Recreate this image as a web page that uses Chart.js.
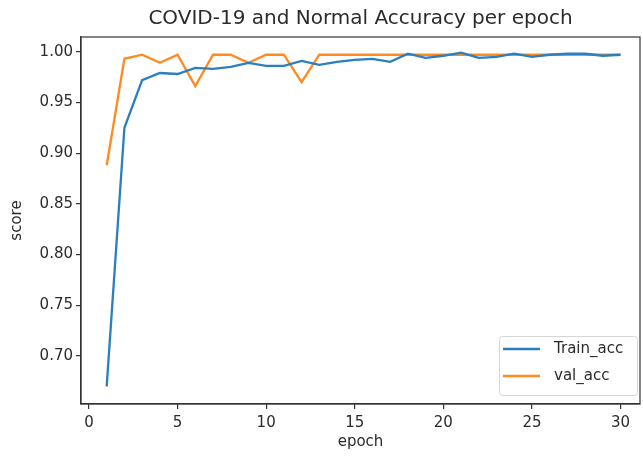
<!DOCTYPE html>
<html>
<head>
<meta charset="utf-8">
<script src="https://cdn.jsdelivr.net/npm/chart.js@4/dist/chart.umd.min.js"></script>
<style>
  html, body { margin: 0; padding: 0; background: #fff; }
  #wrap { width: 643px; height: 460px; }
</style>
</head>
<body>
<div id="wrap"><canvas id="accChart" width="643" height="460"></canvas></div>
<script>
// epochs and accuracies
const epochs = [1,2,3,4,5,6,7,8,9,10,11,12,13,14,15,16,17,18,19,20,21,22,23,24,25,26,27,28,29,30];
const trainAcc = [0.670,0.925,0.972,0.979,0.978,0.984,0.983,0.985,0.989,0.986,0.986,0.991,0.987,0.990,0.992,
                  0.993,0.990,0.998,0.994,0.996,0.999,0.994,0.995,0.998,0.995,0.997,0.998,0.998,0.996,0.997];
const valAcc = [0.888,0.993,0.997,0.989,0.997,0.966,0.997,0.997,0.989,0.997,0.997,0.970,0.997,0.997,0.997,
                0.997,0.997,0.997,0.997,0.997,0.997,0.997,0.997,0.997,0.997,0.997,0.997,0.997,0.997,0.997];
const xTicks = [0,5,10,15,20,25,30];
const yTicks = [0.70,0.75,0.80,0.85,0.90,0.95,1.00];

const txtColor = '#2b2b2b';
const frameColor = '#333';
const font = 'DejaVu Sans';

// box round the plot area, like matplotlib's spines
const framePlugin = {
    id: 'frame',
    afterDraw(chart) {
        const a = chart.chartArea;
        const ctx = chart.ctx;
        ctx.save();
        ctx.strokeStyle = frameColor;
        ctx.lineWidth = 1.2;
        ctx.strokeRect(a.left, a.top, a.right - a.left, a.bottom - a.top);
        ctx.restore();
    }
};

// legend drawn in the lower right corner inside the axes
const cornerLegend = {
    id: 'cornerLegend',
    afterDraw(chart) {
        const a = chart.chartArea;
        const ctx = chart.ctx;
        const w = 138, h = 59;
        const x = a.right - 3 - w, y = a.bottom - 9 - h;
        ctx.save();
        ctx.fillStyle = 'rgba(255,255,255,0.85)';
        ctx.strokeStyle = '#d6d6d6';
        ctx.lineWidth = 1;
        ctx.beginPath();
        ctx.roundRect(x + 0.5, y + 0.5, w, h, 3);
        ctx.fill();
        ctx.stroke();
        ctx.font = '15px "' + font + '"';
        ctx.textBaseline = 'middle';
        chart.data.datasets.forEach((ds, i) => {
            const ly = y + 13 + i * 27;
            ctx.strokeStyle = ds.borderColor;
            ctx.lineWidth = 2.3;
            ctx.beginPath();
            ctx.moveTo(x + 4, ly);
            ctx.lineTo(x + 41, ly);
            ctx.stroke();
            ctx.fillStyle = txtColor;
            ctx.fillText(ds.label, x + 55, ly);
        });
        ctx.restore();
    }
};

new Chart(document.getElementById('accChart'), {
    type: 'line',
    data: {
        labels: epochs,
        datasets: [
            {
                label: 'Train_acc',
                data: epochs.map((e, i) => ({x: e, y: trainAcc[i]})),
                borderColor: '#2a7fbc',
                borderWidth: 2.3,
                pointRadius: 0,
                tension: 0,
                fill: false
            },
            {
                label: 'val_acc',
                data: epochs.map((e, i) => ({x: e, y: valAcc[i]})),
                borderColor: '#ff8a1e',
                borderWidth: 2.3,
                pointRadius: 0,
                tension: 0,
                fill: false
            }
        ]
    },
    options: {
        responsive: false,
        animation: false,
        layout: { padding: { left: 0, right: 3, top: 0, bottom: 0 } },
        plugins: {
            legend: { display: false },
            tooltip: { enabled: false },
            title: {
                display: true,
                text: 'COVID-19 and Normal Accuracy per epoch',
                fullSize: false,
                color: txtColor,
                font: { family: font, size: 20, weight: 'normal' },
                padding: { top: 7, bottom: 6 }
            }
        },
        scales: {
            x: {
                type: 'linear',
                min: -0.45,
                max: 31.1,
                afterBuildTicks: s => { s.ticks = xTicks.map(v => ({value: v})); },
                afterFit: s => { s.height = 56; },
                grid: { display: true, drawOnChartArea: false, drawTicks: true, tickLength: 5, color: frameColor, lineWidth: 1.2 },
                border: { display: true, color: frameColor, width: 1.2 },
                ticks: { color: txtColor, font: { family: font, size: 15 }, padding: 5, maxRotation: 0 },
                title: { display: true, text: 'epoch', color: txtColor, font: { family: font, size: 15 }, padding: { top: 0, bottom: 9 } }
            },
            y: {
                min: 0.6526,
                max: 1.0145,
                afterBuildTicks: s => { s.ticks = yTicks.map(v => ({value: v})); },
                afterFit: s => { s.width = 81; },
                grid: { display: true, drawOnChartArea: false, drawTicks: true, tickLength: 5, color: frameColor, lineWidth: 1.2 },
                border: { display: true, color: frameColor, width: 1.2 },
                ticks: { color: txtColor, font: { family: font, size: 15 }, padding: 3, callback: v => v.toFixed(2) },
                title: { display: true, text: 'score', color: txtColor, font: { family: font, size: 15 }, padding: { top: 8, bottom: 2 } }
            }
        }
    },
    plugins: [framePlugin, cornerLegend]
});
</script>
</body>
</html>
